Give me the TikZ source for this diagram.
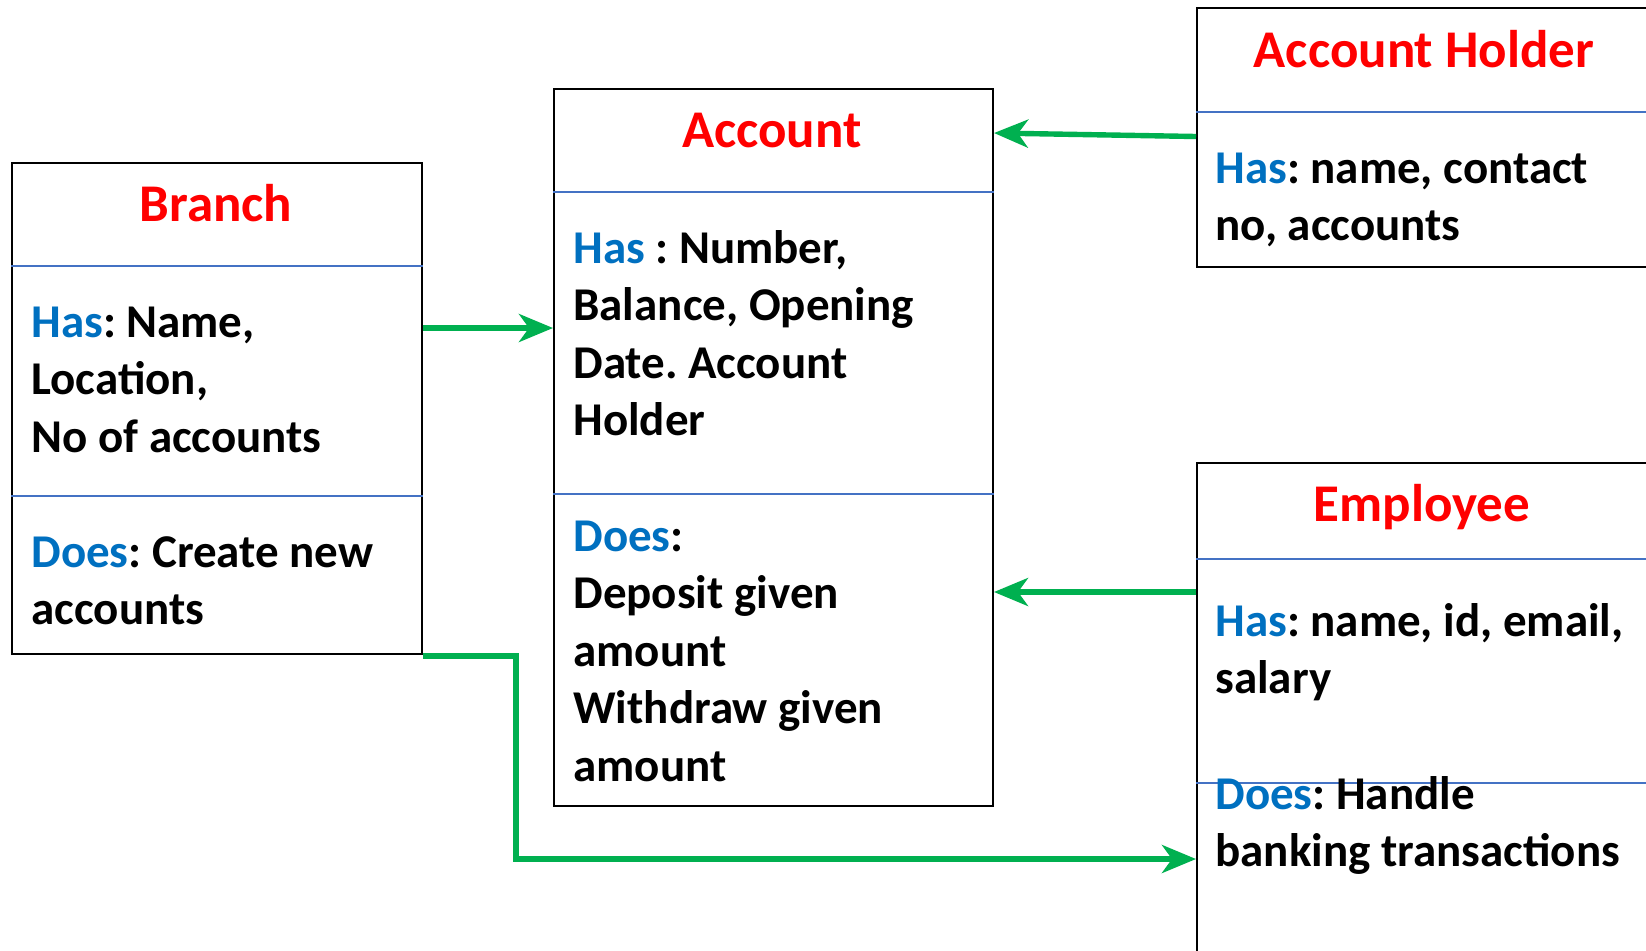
\documentclass[tikz,border=0pt]{standalone}
\usepackage{fontspec}
\setmainfont{Carlito}[BoldFont={Carlito Bold}]
\usetikzlibrary{arrows.meta}
\frenchspacing
\definecolor{titlered}{HTML}{FF0000}
\definecolor{keyblue}{HTML}{0070C0}
\definecolor{rulebl}{HTML}{4472C4}
\definecolor{linkgreen}{HTML}{00B050}
\newcommand{\kw}[1]{\textcolor{keyblue}{#1}}
% block of lines whose baseline is that of its first line
\newcommand{\textlines}[1]{\parbox[t]{230pt}{\raggedright #1}}
\tikzset{
  classbox/.style={draw=black, line width=1pt, inner sep=0pt, anchor=north west},
  divider/.style={draw=rulebl, line width=0.8pt},
  title/.style={anchor=base, inner sep=0pt, text=titlered,
    font=\bfseries\fontsize{26.5}{32}\selectfont},
  body/.style={anchor=base west, inner sep=0pt,
    font=\bfseries\fontsize{23.5}{28.75}\selectfont},
  link/.style={draw=linkgreen, line width=2.7pt,
    -{Stealth[length=17pt, width=14pt, inset=5pt]}}
}
\begin{document}
\begin{tikzpicture}[x=0.5pt, y=-0.5pt]
\clip (0,0) rectangle (1646,950);
\fill[white] (0,0) rectangle (1646,950);

% class boxes
\node[classbox, minimum width=205pt, minimum height=245.5pt] (branch) at (11,162) {};
\node[classbox, minimum width=219.5pt, minimum height=358.5pt] (account) at (553,88) {};
\node[classbox, minimum width=260pt, minimum height=129.5pt] (holder) at (1196,7) {};
\node[classbox, minimum width=260pt, minimum height=270pt] (employee) at (1196,462) {};

% compartment rules
\draw[divider] (branch.west |- 0,266) -- (branch.east |- 0,266);
\draw[divider] (branch.west |- 0,496) -- (branch.east |- 0,496);
\draw[divider] (account.west |- 0,192) -- (account.east |- 0,192);
\draw[divider] (account.west |- 0,494) -- (account.east |- 0,494);
\draw[divider] (holder.west |- 0,112) -- (holder.east |- 0,112);
\draw[divider] (employee.west |- 0,559) -- (employee.east |- 0,559);
\draw[divider] (employee.west |- 0,783) -- (employee.east |- 0,783);

% Branch
\node[title] (branchT) at (216,221) {Branch};
\node[body] (branchH) at (31,337) {\textlines{\kw{Has}: Name,\\Location,\\No of accounts}};
\node[body] (branchD) at (31,567) {\textlines{\kw{Does}: Create new\\accounts}};

% Account
\node[title] (accountT) at (772,147) {Account};
\node[body] (accountH) at (573,263) {\textlines{\kw{Has} : Number,\\Balance, Opening\\Date. Account\\Holder}};
\node[body] (accountD) at (573,551) {\textlines{\kw{Does}:\\Deposit given\\amount\\Withdraw given\\amount}};

% Account Holder
\node[title] (holderT) at (1424,67) {Account Holder};
\node[body] (holderH) at (1215,183) {\textlines{\kw{Has}: name, contact\\no, accounts}};

% Employee
\node[title] (employeeT) at (1422,521) {Employee};
\node[body] (employeeH) at (1215,636) {\textlines{\kw{Has}: name, id, email,\\salary}};
\node[body] (employeeD) at (1215,809) {\textlines{\kw{Does}: Handle\\banking transactions}};

% associations
\coordinate (elbowA) at (516,656);
\coordinate (elbowB) at (516,859);
\draw[link] (branch.east |- 0,328) -- (account.west |- 0,328);
\draw[link] (holder.west |- 0,136.5) -- (account.east |- 0,133);
\draw[link] (employee.west |- 0,592) -- (account.east |- 0,592);
\draw[link, line join=miter] (branch.east |- 0,656) -- (elbowA) -- (elbowB) -- (employee.west |- elbowB);
\end{tikzpicture}
\end{document}
